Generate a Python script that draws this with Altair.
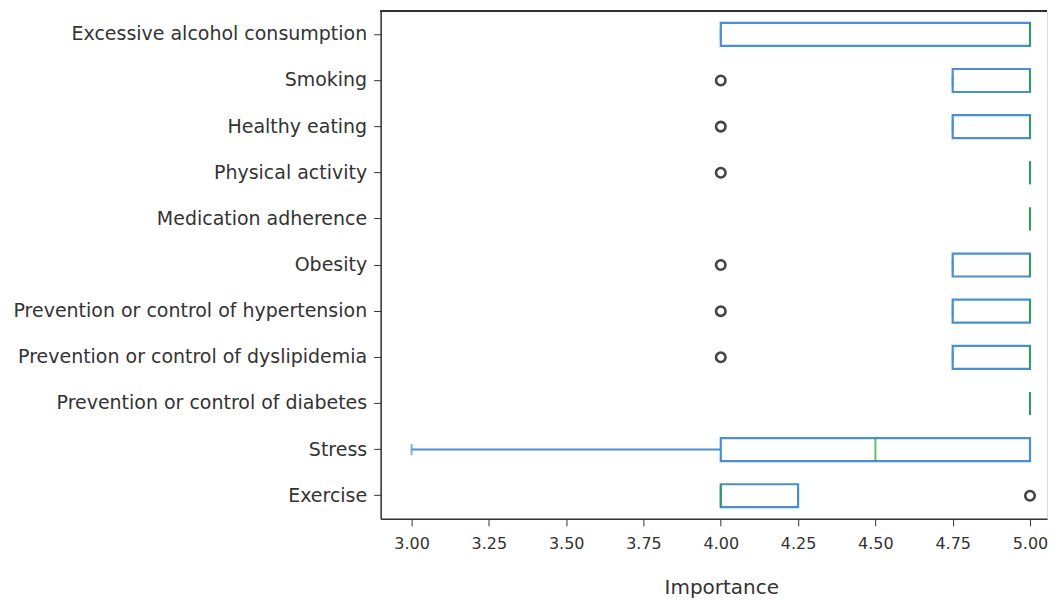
import altair as alt
import pandas as pd

categories = [
    "Excessive alcohol consumption", "Smoking", "Healthy eating", "Physical activity",
    "Medication adherence", "Obesity", "Prevention or control of hypertension",
    "Prevention or control of dyslipidemia", "Prevention or control of diabetes",
    "Stress", "Exercise",
]
whisker_low = [4.0, 4.75, 4.75, 5.0, 5.0, 4.75, 4.75, 4.75, 5.0, 3.0, 4.0]
q1 =          [4.0, 4.75, 4.75, 5.0, 5.0, 4.75, 4.75, 4.75, 5.0, 4.0, 4.0]
median =      [5.0, 5.0, 5.0, 5.0, 5.0, 5.0, 5.0, 5.0, 5.0, 4.5, 4.0]
q3 =          [5.0, 5.0, 5.0, 5.0, 5.0, 5.0, 5.0, 5.0, 5.0, 5.0, 4.25]
whisker_high = [5.0, 5.0, 5.0, 5.0, 5.0, 5.0, 5.0, 5.0, 5.0, 5.0, 4.25]
outlier_cats = ["Smoking", "Healthy eating", "Physical activity", "Obesity",
                "Prevention or control of hypertension",
                "Prevention or control of dyslipidemia", "Exercise"]
outlier_vals = [4.0, 4.0, 4.0, 4.0, 4.0, 4.0, 5.0]
x_ticks = [3.0, 3.25, 3.5, 3.75, 4.0, 4.25, 4.5, 4.75, 5.0]

df = pd.DataFrame({"cat": categories, "wl": whisker_low, "q1": q1, "med": median,
                   "q3": q3, "wh": whisker_high})
out = pd.DataFrame({"cat": outlier_cats, "v": outlier_vals})

W, H = 667, 508
BLUE = "#4a8fd0"
GREEN = "#2ca02c"
FONT = "DejaVu Sans"
TXT = "#333333"

xscale = alt.Scale(domain=[2.9, 5.055], nice=False, zero=False)
yscale = alt.Scale(domain=categories, paddingInner=0, paddingOuter=0)

x_axis = alt.Axis(values=x_ticks, format=".2f",
                  title="Importance", grid=False, labelFont=FONT, labelFontSize=16,
                  labelColor=TXT, titleFont=FONT, titleFontSize=20, titleFontWeight="normal",
                  titleColor=TXT, titlePadding=26, tickColor=TXT, tickSize=7,
                  domainColor=TXT, domainWidth=1.5, labelPadding=10,
                  titleX=341, titleAlign="center")
y_axis = alt.Axis(title=None, labelFont=FONT, labelFontSize=19, labelColor=TXT,
                  tickColor=TXT, tickSize=7, domainColor=TXT, domainWidth=1.5,
                  labelPadding=7, labelLimit=500)

base = alt.Chart(df)
Y = alt.Y("cat:N", scale=yscale, sort=categories)

whisk_lo = base.mark_rule(color=BLUE, strokeWidth=2).encode(
    x=alt.X("wl:Q", scale=xscale, axis=x_axis), x2="q1:Q",
    y=alt.Y("cat:N", scale=yscale, axis=y_axis, sort=categories))
whisk_hi = base.mark_rule(color=BLUE, strokeWidth=2).encode(
    x=alt.X("q3:Q", scale=xscale), x2="wh:Q", y=Y)
box = base.mark_bar(fill="white", stroke=BLUE, strokeWidth=2.2, height=23).encode(
    x=alt.X("q1:Q", scale=xscale), x2="q3:Q", y=Y)
cap_lo = base.mark_tick(color=BLUE, thickness=2, size=11, orient="vertical").encode(
    x=alt.X("wl:Q", scale=xscale), y=Y)
cap_hi = base.mark_tick(color=BLUE, thickness=2, size=11, orient="vertical").encode(
    x=alt.X("wh:Q", scale=xscale), y=Y)
med = base.mark_tick(color=GREEN, thickness=2, size=23, orient="vertical").encode(
    x=alt.X("med:Q", scale=xscale), y=Y)
pts = alt.Chart(out).mark_point(shape="circle", filled=False, color="#444444",
                                 strokeWidth=2.6, size=90, opacity=1).encode(
    x=alt.X("v:Q", scale=xscale), y=Y)
top = alt.Chart(df).mark_rule(color=TXT, strokeWidth=1.5).encode(
    x=alt.value(0), x2=alt.value(W), y=alt.value(0))

chart = alt.layer(whisk_lo, whisk_hi, box, cap_lo, cap_hi, med, pts, top).properties(
    width=W, height=H
).configure_view(stroke=None).configure(background="white",
                                        padding={"left": 4, "top": 2, "right": 0, "bottom": 0})

chart.save("out.html", embed_options={"renderer": "svg", "actions": False})
